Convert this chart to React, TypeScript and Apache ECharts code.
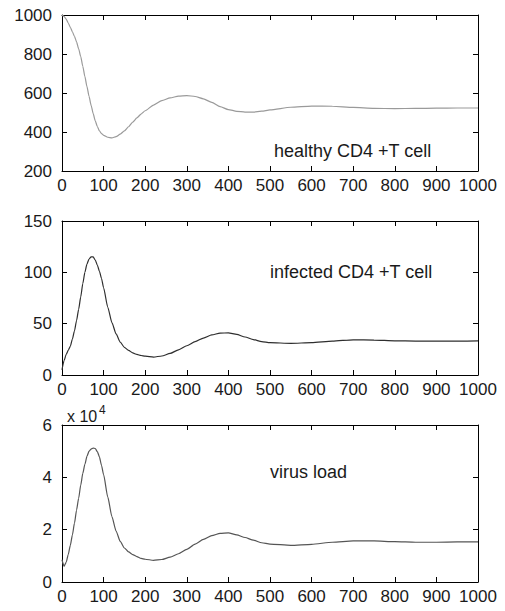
import React, { useEffect, useRef } from "react";
import * as echarts from "echarts";

const times = [0, 5, 10, 15, 20, 25, 30, 35, 40, 45, 50, 55, 60, 65, 70, 75, 80, 85, 90, 95, 100, 110, 120, 130, 140, 150, 160, 170, 180, 190, 200, 220, 240, 260, 280, 300, 320, 340, 360, 380, 400, 420, 440, 460, 480, 500, 550, 600, 650, 700, 750, 800, 850, 900, 950, 1000];

const healthy = [1000, 993, 979, 959, 937, 914, 890, 862, 827, 787, 737, 684, 633, 583, 537, 494, 457, 428, 406, 392, 383, 373, 370, 376, 389, 406, 427, 451, 472, 492, 509, 538, 561, 575, 584, 587, 582, 570, 552, 530, 515, 506, 502, 502, 507, 513, 527, 533, 532, 526, 521, 520, 521, 522, 523, 523];

const infected = [5, 14, 20, 24, 28, 35, 43, 53, 64, 76, 89, 100, 108, 113, 115, 115, 112, 107, 101, 94, 85, 66, 51, 40, 32, 27, 24, 21.5, 20, 19, 18.3, 17.5, 18.5, 21, 24.5, 28.5, 32.5, 36, 39, 40.8, 41, 39.5, 37, 34.5, 32.5, 31.5, 30.8, 31.5, 33, 34.3, 34, 33.3, 33, 33, 33, 33.2];

// virus load in units of 10^4
const virus = [0.85, 0.6, 0.75, 1.05, 1.4, 1.8, 2.25, 2.75, 3.2, 3.7, 4.15, 4.5, 4.8, 5.0, 5.08, 5.12, 5.1, 4.98, 4.78, 4.45, 4.1, 3.25, 2.5, 1.95, 1.55, 1.3, 1.15, 1.05, 0.97, 0.9, 0.87, 0.83, 0.86, 0.95, 1.08, 1.25, 1.45, 1.63, 1.77, 1.86, 1.88, 1.8, 1.7, 1.6, 1.5, 1.45, 1.4, 1.44, 1.52, 1.57, 1.57, 1.54, 1.52, 1.52, 1.53, 1.53];

const panelLabels = ["healthy CD4 +T cell", "infected CD4 +T cell", "virus load"];
const xRange = { min: 0, max: 1000, interval: 100 };
const yRanges = [
  { min: 200, max: 1000, interval: 200 },
  { min: 0, max: 150, interval: 50 },
  { min: 0, max: 6, interval: 2 },
];
const lineColors = ["#9a9a9a", "#2e2e2e", "#555555"];
const exponentLabel = "x 10";
const exponentSup = "4";

const FONT = "Liberation Sans, Arial, sans-serif";

export default function App() {
  const ref = useRef<HTMLDivElement>(null);
  useEffect(() => {
    if (!ref.current) return;
    const chart = echarts.init(ref.current, undefined, { renderer: "svg" });
    const grids = [
      { left: 62, top: 15, width: 416, height: 156 },
      { left: 62, top: 221, width: 416, height: 154 },
      { left: 62, top: 425, width: 416, height: 157 },
    ];
    const seriesData = [healthy, infected, virus];
    const axisLine = { show: true, onZero: false, lineStyle: { color: "#000", width: 1 } };
    const tick = { show: true, inside: true, length: 5, lineStyle: { color: "#000", width: 1 } };
    const fmt = (v: number) => String(v);
    const xAxis: any[] = [];
    const yAxis: any[] = [];
    grids.forEach((_, i) => {
      xAxis.push({
        type: "value", gridIndex: i, position: "bottom", ...xRange,
        axisLine, axisTick: tick, splitLine: { show: false },
        axisLabel: { show: true, margin: 6, fontSize: 17, color: "#1a1a1a", fontFamily: FONT, formatter: fmt },
      });
      xAxis.push({
        type: "value", gridIndex: i, position: "top", ...xRange,
        axisLine, axisTick: tick, splitLine: { show: false }, axisLabel: { show: false },
      });
      yAxis.push({
        type: "value", gridIndex: i, position: "left", ...yRanges[i],
        axisLine, axisTick: tick, splitLine: { show: false },
        axisLabel: { show: true, margin: 10, fontSize: 17, color: "#1a1a1a", fontFamily: FONT, formatter: fmt },
      });
      yAxis.push({
        type: "value", gridIndex: i, position: "right", ...yRanges[i],
        axisLine, axisTick: tick, splitLine: { show: false }, axisLabel: { show: false },
      });
    });
    const series = seriesData.map((d, i) => ({
      type: "line",
      xAxisIndex: i * 2,
      yAxisIndex: i * 2,
      data: times.map((t, k) => [t, d[k]]),
      showSymbol: false,
      smooth: 0.2,
      smoothMonotone: "x",
      lineStyle: { color: lineColors[i], width: 1.2 },
    }));
    const labelPos = [
      { x: 274, y: 151 },
      { x: 270, y: 272 },
      { x: 270, y: 472 },
    ];
    const graphic: any[] = panelLabels.map((t, i) => ({
      type: "text",
      x: labelPos[i].x,
      y: labelPos[i].y,
      style: { text: t, fontSize: 18, fill: "#1a1a1a", fontFamily: FONT, verticalAlign: "middle", align: "left" },
    }));
    graphic.push({
      type: "text", x: 67, y: 416.5,
      style: { text: exponentLabel, fontSize: 16, fill: "#1a1a1a", fontFamily: FONT, verticalAlign: "middle", align: "left" },
    });
    graphic.push({
      type: "text", x: 99, y: 410,
      style: { text: exponentSup, fontSize: 12, fill: "#1a1a1a", fontFamily: FONT, verticalAlign: "middle", align: "left" },
    });
    chart.setOption({
      animation: false,
      backgroundColor: "#fff",
      grid: grids,
      xAxis,
      yAxis,
      series,
      graphic,
    });
    return () => chart.dispose();
  }, []);
  return (
    <div
      ref={ref}
      style={{ position: "absolute", left: 0, top: 0, width: 505, height: 611 }}
    />
  );
}
